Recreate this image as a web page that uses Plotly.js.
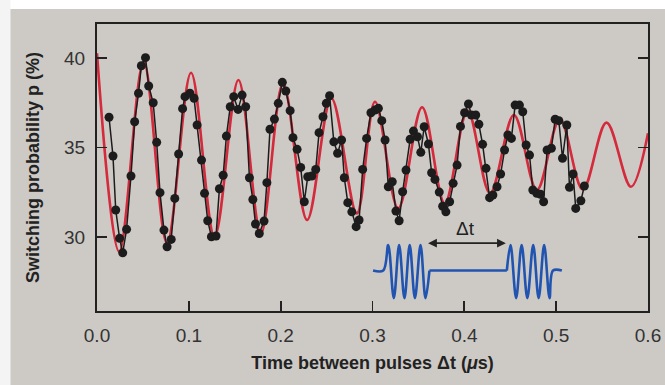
<!DOCTYPE html>
<html>
<head>
<meta charset="utf-8">
<script src="https://cdn.plot.ly/plotly-3.0.1.min.js"></script>
<style>html,body{margin:0;padding:0;background:#cdcac6;}#chart{width:665px;height:385px;}</style>
</head>
<body>
<div id="chart"></div>
<script>
// Fit curve (red): extrema
const fitX = [0.0, 0.0242, 0.0508, 0.0762, 0.1024, 0.128, 0.154, 0.1785, 0.2026, 0.2288, 0.2552, 0.2829,
              0.3027, 0.328, 0.354, 0.3786, 0.4035, 0.428, 0.454, 0.479, 0.504, 0.529, 0.5548, 0.5814, 0.6];
const fitY = [40.26, 29.18, 39.8, 29.65, 39.18, 30.02, 38.77, 30.2, 38.59, 30.95, 37.75, 31.32,
              37.56, 31.6, 37.25, 31.88, 37.06, 32.44, 36.82, 32.63, 36.58, 32.66, 36.39, 32.81, 35.8];

// Measured switching probability (black dots)
const dataX = [0.0131, 0.0174, 0.0204, 0.0246, 0.028, 0.0322, 0.037, 0.041, 0.0452, 0.0483, 0.0528, 0.0563,
  0.0612, 0.065, 0.0686, 0.0729, 0.0763, 0.0808, 0.0847, 0.0889, 0.0932, 0.0958, 0.1012, 0.1057, 0.109,
  0.1138, 0.1171, 0.1206, 0.1246, 0.1296, 0.1333, 0.1374, 0.1409, 0.1451, 0.1489, 0.1536, 0.158, 0.1619,
  0.166, 0.1697, 0.1726, 0.1767, 0.1819, 0.185, 0.1884, 0.1932, 0.1974, 0.2018, 0.2056, 0.2103, 0.2134,
  0.2179, 0.2218, 0.2257, 0.2295, 0.2339, 0.2382, 0.2418, 0.2461, 0.2497, 0.2533, 0.2579, 0.262, 0.2663,
  0.2693, 0.2731, 0.2775, 0.2822, 0.2854, 0.2893, 0.2936, 0.2983, 0.3027, 0.3064, 0.3101, 0.3137, 0.3172,
  0.3215, 0.3255, 0.329, 0.3328, 0.3365, 0.341, 0.3446, 0.349, 0.3526, 0.3563, 0.3609, 0.3644, 0.368,
  0.3727, 0.3764, 0.3799, 0.384, 0.3878, 0.3921, 0.3958, 0.4003, 0.4045, 0.4077, 0.4124, 0.4158, 0.4199,
  0.4236, 0.4275, 0.4311, 0.4356, 0.4395, 0.4438, 0.4474, 0.4513, 0.4553, 0.46, 0.4636, 0.4673, 0.471,
  0.4746, 0.4789, 0.4829, 0.4863, 0.4901, 0.4948, 0.4989, 0.5029, 0.5069, 0.5116, 0.5145, 0.5184, 0.5213,
  0.5269, 0.5307];
const dataY = [36.69, 34.53, 31.51, 29.93, 29.12, 30.43, 33.41, 36.44, 38.03, 39.57, 40.02, 38.44,
  37.5, 35.29, 32.48, 30.39, 29.46, 29.87, 32.16, 34.64, 37.17, 37.84, 38.03, 37.75, 36.26,
  34.3, 32.44, 30.91, 30.02, 30.06, 32.7, 33.45, 35.64, 37.28, 37.84, 37.13, 37.93, 37.28,
  33.31, 32.1, 30.73, 30.2, 30.89, 33.04, 36.02, 36.59, 37.47, 38.64, 38.16, 37.06, 35.55,
  34.9, 33.89, 31.97, 33.37, 33.41, 33.78, 35.83, 36.72, 37.47, 37.89, 35.32, 34.68, 35.42,
  33.31, 31.92, 31.41, 30.58, 30.95, 33.78, 35.51, 36.94, 37.09, 37.19, 36.5, 35.42, 32.81,
  33.09, 31.45, 30.91, 32.53, 33.74, 35.46, 35.92, 35.6, 34.73, 36.16, 35.2, 33.59, 33.22,
  32.51, 31.72, 31.41, 31.97, 33.0, 34.02, 36.18, 36.94, 37.43, 36.82, 36.82, 36.3, 35.18,
  33.84, 32.2, 32.35, 32.81, 33.52, 34.86, 35.7, 35.51, 37.37, 37.37, 37.0, 35.14, 34.58,
  32.63, 32.44, 32.39, 31.97, 34.86, 34.96, 36.58, 36.5, 34.4, 36.26, 32.78, 33.52, 31.6,
  32.03, 32.85];

// Inset pulse sketch (blue): baseline / crest / trough positions
const pulseLeftX  = [0.3006, 0.3117, 0.3171, 0.3232, 0.329, 0.3348, 0.3405, 0.3462, 0.3523, 0.3577, 0.362];
const pulseLeftY  = [28.13, 28.13, 29.55, 26.59, 29.55, 26.59, 29.55, 26.59, 29.55, 26.59, 28.13];
const gapX        = [0.362, 0.4463];
const gapY        = [28.13, 28.13];
const pulseRightX = [0.4463, 0.4503, 0.4564, 0.4624, 0.4686, 0.475, 0.4809, 0.4869, 0.4928, 0.4966, 0.5062];
const pulseRightY = [28.13, 29.55, 26.59, 29.55, 26.59, 29.55, 26.59, 29.55, 26.59, 28.13, 28.13];

const xTicks = [0, 0.1, 0.2, 0.3, 0.4, 0.5, 0.6];
const xTickText = ['0.0', '0.1', '0.2', '0.3', '0.4', '0.5', '0.6'];
const yTicks = [30, 35, 40];
const yTickText = ['30', '35', '40'];

const FONT = 'Liberation Sans, Arial, Helvetica, sans-serif';
const INK = '#222222';
const BLUE = '#2154b0';

const traces = [
  {x: fitX, y: fitY, type: 'scatter', mode: 'lines',
   line: {color: '#d42a3c', width: 2.6, shape: 'spline', smoothing: 1}, hoverinfo: 'skip'},
  {x: dataX, y: dataY, type: 'scatter', mode: 'lines+markers',
   line: {color: '#1c1c1c', width: 1.5},
   marker: {color: '#1c1c1c', size: 9}},
  {x: pulseLeftX, y: pulseLeftY, type: 'scatter', mode: 'lines',
   line: {color: BLUE, width: 2.6, shape: 'spline', smoothing: 1}},
  {x: gapX, y: gapY, type: 'scatter', mode: 'lines',
   line: {color: BLUE, width: 2.6}},
  {x: pulseRightX, y: pulseRightY, type: 'scatter', mode: 'lines',
   line: {color: BLUE, width: 2.6, shape: 'spline', smoothing: 1}}
];

const layout = {
  width: 665, height: 385,
  margin: {l: 97, r: 17, t: 24, b: 74},
  paper_bgcolor: '#cdcac6',
  plot_bgcolor: '#cdcac6',
  showlegend: false,
  xaxis: {
    range: [0, 0.6], tickvals: xTicks, ticktext: xTickText,
    ticks: 'inside', ticklen: 10, tickwidth: 1.8, tickcolor: INK,
    showline: true, linecolor: INK, linewidth: 2, mirror: true,
    showgrid: false, zeroline: false, ticklabelstandoff: 6,
    tickfont: {family: FONT, size: 19, color: '#333'},
    title: {text: 'Time between pulses Δt (<i>μ</i>s)', standoff: 12,
            font: {family: FONT, size: 18, color: INK, weight: 'bold'}}
  },
  yaxis: {
    range: [25.87, 41.9], tickvals: yTicks, ticktext: yTickText,
    ticks: 'inside', ticklen: 10, tickwidth: 1.8, tickcolor: INK,
    showline: true, linecolor: INK, linewidth: 2, mirror: 'ticks',
    showgrid: false, zeroline: false, ticklabelstandoff: 6,
    tickfont: {family: FONT, size: 19, color: '#333'},
    title: {text: 'Switching probability p (%)', standoff: 20,
            font: {family: FONT, size: 18, color: INK, weight: 'bold'}}
  },
  shapes: [
    {type: 'rect', xref: 'paper', yref: 'paper', x0: -0.2, x1: 1.1, y0: 1.052, y1: 1.1,
     fillcolor: '#ffffff', line: {width: 0}, layer: 'below'},
    {type: 'rect', xref: 'paper', yref: 'paper', x0: -0.2, x1: -0.157, y0: -0.3, y1: 1.1,
     fillcolor: '#f4f4f4', line: {width: 0}, layer: 'below'}
  ],
  annotations: [
    {x: 0.4452, y: 29.66, ax: 0.3589, ay: 29.66, xref: 'x', yref: 'y', axref: 'x', ayref: 'y',
     text: '', showarrow: true, arrowside: 'end+start', arrowhead: 2, arrowsize: 1.1,
     arrowwidth: 1.6, arrowcolor: INK},
    {x: 0.4018, y: 30.5, xref: 'x', yref: 'y', text: 'Δt', showarrow: false,
     font: {family: FONT, size: 19, color: INK}}
  ]
};

Plotly.newPlot('chart', traces, layout, {displayModeBar: false, staticPlot: true});
</script>
</body>
</html>
